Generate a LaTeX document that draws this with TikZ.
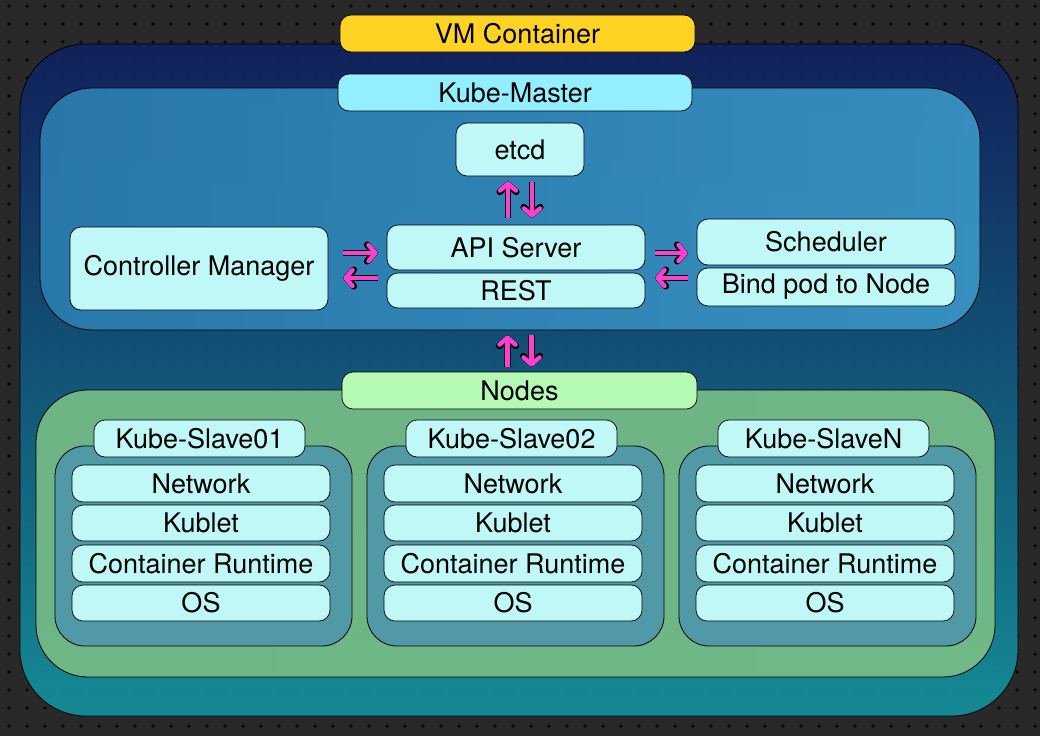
\documentclass[tikz,border=0pt]{standalone}
\usepackage{fontspec}
\setmainfont{TeX Gyre Heros}
\usetikzlibrary{arrows.meta}

\definecolor{bgc}{HTML}{292929}
\definecolor{dotc}{HTML}{080808}
\definecolor{cellc}{HTML}{C0F8F8}
\definecolor{vmc}{HTML}{FFD324}
\definecolor{masterc}{HTML}{93EFFD}
\definecolor{nodesc}{HTML}{B4F9B4}
\definecolor{slavec}{HTML}{5199A6}
\definecolor{magc}{HTML}{FF3FD2}
\definecolor{navyc}{HTML}{10205E}
\definecolor{tealc}{HTML}{13929E}

\tikzset{
  box/.style={draw=black, line width=0.7pt, fill=cellc, rounded corners=11, inner sep=0pt,
    font=\fontsize{27}{32}\selectfont},
  region/.style={draw=black, line width=0.8pt, inner sep=0pt, fill opacity=0.92},
  fat/.style={draw=magc, line width=4.4pt,
    -{Straight Barb[length=7pt,width=16pt,line width=4.4pt,round]},
    preaction={draw=black, line width=6.6pt,
      -{Straight Barb[length=7.2pt,width=16.5pt,line width=6.6pt,round]}}}
}

\begin{document}
\begin{tikzpicture}[x=1pt,y=-1pt]
\useasboundingbox (0,0) rectangle (1040,736);
\fill [bgc] (0,0) rectangle (1040,736);
\foreach \i in {0,...,57}
  \foreach \j in {0,...,40}
    \fill [dotc] (9+18*\i,6+18*\j) circle (1.9);

% vm container
\node (vm) at (519,380) [region, rounded corners=66, minimum width=998, minimum height=672,
  top color=navyc, bottom color=tealc] {};
\node (vmlbl) at (517.5,33.5) [box, fill=vmc, minimum width=355, minimum height=37] {VM Container};

% master
\node (master) at (510,209) [region, rounded corners=52, minimum width=940, minimum height=242,
  left color={rgb,255:red,44;green,125;blue,177}, right color={rgb,255:red,58;green,150;blue,198}] {};
\node (masterlbl) at (515,92.5) [box, fill=masterc, minimum width=354, minimum height=37] {Kube-Master};

\node (etcd) at (520,149.5) [box, minimum width=128, minimum height=53] {etcd};
\node (api) at (516,247.5) [box, minimum width=258, minimum height=45] {API Server};
\node (rest) at (516,290.5) [box, minimum width=258, minimum height=35] {REST};
\node (cm) at (199,268.5) [box, minimum width=258, minimum height=83] {Controller Manager};
\node (sched) at (826,242) [box, minimum width=258, minimum height=46] {Scheduler};
\node (bind) at (826,287) [box, minimum width=258, minimum height=38] {Bind pod to Node};

\draw [fat, shorten <=7pt, shorten >=5pt] ([xshift=-12pt]etcd.south |- api.north) -- ([xshift=-12pt]etcd.south);
\draw [fat, shorten <=6pt, shorten >=7pt] ([xshift=12pt]etcd.south) -- ([xshift=12pt]etcd.south |- api.north);
\draw [fat, shorten <=15pt, shorten >=9pt] ([yshift=15.5pt]cm.east) -- ([yshift=15.5pt]cm.east -| api.west);
\draw [fat, shorten <=9pt, shorten >=15pt] ([yshift=-9.5pt]cm.east -| api.west) -- ([yshift=-9.5pt]cm.east);
\draw [fat, shorten <=10pt, shorten >=9pt] ([yshift=-11pt]sched.west -| api.east) -- ([yshift=-11pt]sched.west);
\draw [fat, shorten <=9pt, shorten >=10pt] ([yshift=9pt]bind.west) -- ([yshift=9pt]bind.west -| api.east);

% nodes
\node (pool) at (515.5,533.5) [region, rounded corners=52, minimum width=959, minimum height=287,
  left color={rgb,255:red,118;green,187;blue,133}, middle color={rgb,255:red,142;green,197;blue,162},
  right color={rgb,255:red,120;green,189;blue,134}] {};
\node (nodeslbl) at (519.5,390.5) [box, fill=nodesc, minimum width=355, minimum height=37] {Nodes};

\draw [fat, shorten <=5pt, shorten >=5pt] ([xshift=-12pt]nodeslbl.north) -- ([xshift=-12pt]nodeslbl.north |- master.south);
\draw [fat, shorten <=5pt, shorten >=5pt] ([xshift=12pt]nodeslbl.north |- master.south) -- ([xshift=12pt]nodeslbl.north);

\foreach \x/\name/\id in {0/Kube-Slave01/a, 312/Kube-Slave02/b, 624/Kube-SlaveN/n} {
  \node (slave\id) at (203.5+\x,546) [region, fill=slavec, fill opacity=1, rounded corners=30,
    minimum width=297, minimum height=200] {};
  \node (tag\id) at (199.5+\x,438.5) [box, minimum width=211, minimum height=37] {\name};
  \node (net\id) at (201+\x,483.5) [box, minimum width=258, minimum height=37] {Network};
  \node (kub\id) at (201+\x,523) [box, minimum width=258, minimum height=36] {Kublet};
  \node (run\id) at (201+\x,563.5) [box, minimum width=258, minimum height=37] {Container Runtime};
  \node (os\id) at (201+\x,603) [box, minimum width=258, minimum height=36] {OS};
}
\end{tikzpicture}
\end{document}
